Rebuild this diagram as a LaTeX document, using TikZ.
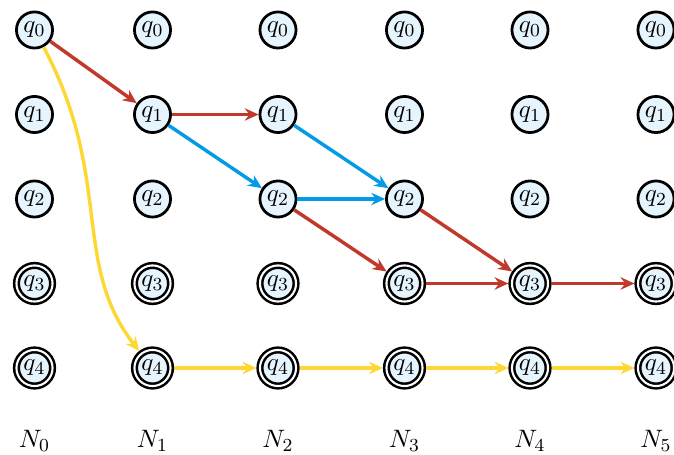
\documentclass[tikz,border=0pt]{standalone}
\usetikzlibrary{arrows.meta}
\definecolor{fillc}{RGB}{230,244,253}
\definecolor{redc}{RGB}{192,57,43}
\definecolor{bluec}{RGB}{3,155,229}
\definecolor{yelc}{RGB}{253,216,53}
\begin{document}
\begin{tikzpicture}[x=0.4348pt,y=-0.4348pt,
  every node/.style={font=\fontsize{10.8}{13}\selectfont},
  st/.style={circle,draw=black,line width=1.2pt,fill=fillc,minimum size=15.7pt,inner sep=0pt},
  acc/.style={st,double=white,line width=1.1pt,double distance=0.9pt,outer sep=1.55pt},
  arr/.style={line width=1.5pt,-{Stealth[length=6pt,width=5.4pt,inset=2pt]}},
  rarr/.style={arr,draw=redc},
  barr/.style={arr,draw=bluec},
  yarr/.style={arr,draw=yelc},
  lab/.style={inner sep=0pt}]
\useasboundingbox (0,0) rectangle (674,455);
\foreach \c/\cx in {0/34.5,1/152.5,2/278,3/404.5,4/530,5/656}{
  \foreach \r/\ry in {0/30,1/114.5,2/199}{
    \node[st] (n\c\r) at (\cx,\ry) {$q_{\r}$};
  }
  \foreach \r/\ry in {3/283.5,4/368}{
    \node[acc] (n\c\r) at (\cx,\ry) {$q_{\r}$};
  }
  \node[lab] (l\c) at (\cx,441) {$N_{\c}$};
}
% red
\draw[rarr] (n00) -- (n11);
\draw[rarr] (n11) -- (n21);
\draw[rarr] (n22) -- (n33);
\draw[rarr] (n32) -- (n43);
\draw[rarr] (n33) -- (n43);
\draw[rarr] (n43) -- (n53);
% blue
\draw[barr] (n11) -- (n22);
\draw[barr] (n21) -- (n32);
\draw[barr] (n22) -- (n32);
% yellow
\draw[yarr] (n00) .. controls +(79,148.5) and +(-81.5,-104) .. (n14);
\draw[yarr] (n14) -- (n24);
\draw[yarr] (n24) -- (n34);
\draw[yarr] (n34) -- (n44);
\draw[yarr] (n44) -- (n54);
\end{tikzpicture}
\end{document}
